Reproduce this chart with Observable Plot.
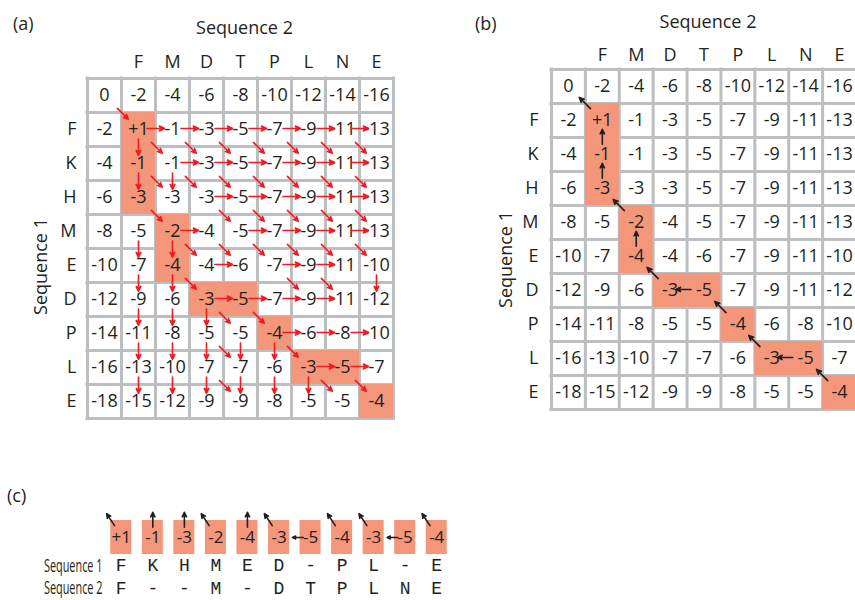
<!DOCTYPE html>
<html>
<head>
<meta charset="utf-8">
<script src="https://cdn.jsdelivr.net/npm/d3@7"></script>
<script src="https://cdn.jsdelivr.net/npm/@observablehq/plot@0.6"></script>
<style>
  html, body { margin: 0; padding: 0; background: #fff; overflow: hidden; }
  #fig { position: relative; width: 855px; height: 600px; overflow: hidden;
         font-family: "Open Sans", sans-serif; color: #231f20; }
  #fig svg { position: absolute; }
  .lab { position: absolute; font-size: 18px; line-height: 18px; }
</style>
</head>
<body>
<div id="fig">
  <div class="lab" style="left:13px;top:14px">(a)</div>
  <div class="lab" style="left:475px;top:14px">(b)</div>
  <div class="lab" style="left:7px;top:486px">(c)</div>
</div>
<script>
// ---- data ----
const seq1 = ["F", "K", "H", "M", "E", "D", "P", "L", "E"];   // rows (Sequence 1)
const seq2 = ["F", "M", "D", "T", "P", "L", "N", "E"];        // columns (Sequence 2)
const scores = [
  [0, -2, -4, -6, -8, -10, -12, -14, -16],
  [-2, 1, -1, -3, -5, -7, -9, -11, -13],
  [-4, -1, -1, -3, -5, -7, -9, -11, -13],
  [-6, -3, -3, -3, -5, -7, -9, -11, -13],
  [-8, -5, -2, -4, -5, -7, -9, -11, -13],
  [-10, -7, -4, -4, -6, -7, -9, -11, -10],
  [-12, -9, -6, -3, -5, -7, -9, -11, -12],
  [-14, -11, -8, -5, -5, -4, -6, -8, -10],
  [-16, -13, -10, -7, -7, -6, -3, -5, -7],
  [-18, -15, -12, -9, -9, -8, -5, -5, -4]
];
// forward pointers drawn in (a): d = diagonal, h = from left, v = from above
const pointers = [
  "d h h h h h h h",
  "v d dh dh dh dh dh dh",
  "v dv d dh dh dh dh dh",
  "- d h d dh dh dh dh",
  "v v d dh d dh dh d",
  "v v d h h dh dh v",
  "v v v d d h h h",
  "v v v dv v d h h",
  "v v v dv v v d d"
];
// traceback path of (b): row index, column index, move (d = up-left, u = up, l = left)
const traceRows = [1, 2, 3, 4, 5, 6, 6, 7, 8, 8, 9];
const traceCols = [1, 1, 1, 2, 2, 3, 4, 5, 6, 7, 8];
const traceMoves = ["d", "u", "u", "d", "u", "d", "l", "d", "d", "l", "d"];
// alignment of (c)
const alignScores = [1, -1, -3, -2, -4, -3, -5, -4, -3, -5, -4];
const alignMoves = ["d", "u", "u", "d", "u", "d", "l", "d", "d", "l", "d"];
const alignSeq1 = ["F", "K", "H", "M", "E", "D", "-", "P", "L", "-", "E"];
const alignSeq2 = ["F", "-", "-", "M", "-", "D", "T", "P", "L", "N", "E"];
const rowNames = ["Sequence 1", "Sequence 2"];

// ---- styles ----
const SALMON = "#f4967a", GRID = "#bcbec0", RED = "#ed1c24", INK = "#231f20";
const fmt = v => (v > 0 ? "+" + v : String(v));
const baseStyle = {fontFamily: "'Open Sans', sans-serif", fontSize: "18px", color: INK, background: "none", overflow: "visible"};

function forwardArrows() {
  const out = [];
  pointers.forEach((row, i) => {
    row.split(" ").forEach((code, j) => {
      const r = i + 1, c = j + 1;
      for (const k of code) {
        if (k === "d") out.push({x1: c - 0.12, y1: r - 0.12, x2: c + 0.2, y2: r + 0.2});
        if (k === "h") out.push({x1: c - 0.25, y1: r + 0.47, x2: c + 0.27, y2: r + 0.47});
        if (k === "v") out.push({x1: c + 0.5, y1: r - 0.22, x2: c + 0.5, y2: r + 0.26});
      }
    });
  });
  return out;
}
function backArrows() {
  return traceMoves.map((m, k) => {
    const r = traceRows[k], c = traceCols[k];
    if (m === "d") return {x1: c + 0.15, y1: r + 0.15, x2: c - 0.18, y2: r - 0.18};
    if (m === "u") return {x1: c + 0.5, y1: r + 0.2, x2: c + 0.5, y2: r - 0.24};
    return {x1: c + 0.12, y1: r + 0.47, x2: c - 0.33, y2: r + 0.47};
  });
}

function matrixPanel(o) {
  const cells = [];
  scores.forEach((row, r) => row.forEach((v, c) => cells.push({r, c, label: fmt(v)})));
  const path = traceRows.map((r, k) => ({r, c: traceCols[k]}));
  const svg = Plot.plot({
    width: o.width, height: o.height,
    marginLeft: o.ml, marginRight: o.mr, marginTop: o.mt, marginBottom: o.mb,
    style: baseStyle,
    x: {domain: [0, 9]},
    y: {domain: [0, 10], reverse: true},
    marks: [
      Plot.ruleX(d3.range(10), {stroke: GRID, strokeWidth: 3, strokeLinecap: "square"}),
      Plot.ruleY(d3.range(11), {stroke: GRID, strokeWidth: 3, strokeLinecap: "square"}),
      Plot.rect(path, {x1: d => d.c, x2: d => d.c + 1, y1: d => d.r, y2: d => d.r + 1, fill: SALMON}),
      Plot.text(cells, {x: d => d.c + 0.5, y: d => d.r + 0.5, text: "label", fontSize: 18, fill: INK}),
      Plot.arrow(o.arrows, {x1: "x1", y1: "y1", x2: "x2", y2: "y2", stroke: o.color, fill: o.color,
        strokeWidth: 1.6, headLength: 8, headAngle: 50}),
      Plot.axisX({anchor: "top", ticks: d3.range(1, 9).map(i => i + 0.5),
        tickFormat: d => seq2[Math.round(d - 1.5)], tickSize: 0, tickPadding: o.colPad, fontSize: 18, label: null}),
      Plot.axisY({anchor: "left", ticks: d3.range(1, 10).map(i => i + 0.5),
        tickFormat: d => seq1[Math.round(d - 1.5)], tickSize: 0, tickPadding: o.rowPad, fontSize: 18, label: null}),
      Plot.text(["Sequence 2"], {text: d => d, frameAnchor: "top", textAnchor: "middle", lineAnchor: "middle",
        dx: 4, dy: o.s2dy, fontSize: 18, fill: INK}),
      Plot.text(["Sequence 1"], {text: d => d, frameAnchor: "left", textAnchor: "middle", lineAnchor: "middle",
        rotate: -90, dx: o.s1dx, dy: o.s1dy, fontSize: 18, fill: INK})
    ]
  });
  svg.style.left = o.left + "px";
  svg.style.top = o.top + "px";
  return svg;
}

const fig = document.getElementById("fig");
fig.appendChild(matrixPanel({left: 0, top: 0, width: 420, height: 430, ml: 87, mr: 27, mt: 78, mb: 12,
  arrows: forwardArrows(), color: RED, colPad: 11, rowPad: 11, s2dy: -50, s1dx: -46, s1dy: 18}));
fig.appendChild(matrixPanel({left: 470, top: 0, width: 390, height: 420, ml: 81, mr: 4, mt: 69, mb: 11,
  arrows: backArrows(), color: INK, colPad: 9, rowPad: 13, s2dy: -47, s1dx: -45, s1dy: 20}));

// ---- panel (c) ----
const idx = d3.range(alignScores.length);
const ROW_Y = [1.33, 2.0];
const cArrows = alignMoves.map((m, i) => {
  const left = i - 1 / 3;
  if (m === "d") return {x1: left + 0.12, y1: 0.15, x2: left - 0.13, y2: -0.2};
  if (m === "u") return {x1: i, y1: 0.2, x2: i, y2: -0.24};
  return {x1: left + 0.1, y1: 0.5, x2: left - 0.24, y2: 0.5};
});
const pc = Plot.plot({
  width: 470, height: 120, marginLeft: 105, marginRight: 18, marginTop: 40, marginBottom: 0,
  style: baseStyle,
  x: {domain: [-0.5, 10.5], axis: null},
  y: {domain: [0, 80 / 34], reverse: true},
  marks: [
    Plot.rect(idx, {x1: i => i - 1 / 3, x2: i => i + 1 / 3, y1: 0, y2: 1, fill: SALMON}),
    Plot.text(idx, {x: i => i, y: 0.5, text: i => fmt(alignScores[i]), fontSize: 17, fill: INK}),
    Plot.arrow(cArrows, {x1: "x1", y1: "y1", x2: "x2", y2: "y2", stroke: INK, fill: INK,
      strokeWidth: 1.6, headLength: 8, headAngle: 50}),
    Plot.text(idx, {x: i => i, y: ROW_Y[0], text: i => alignSeq1[i], fontFamily: "'Liberation Mono', monospace", fontSize: 18, fill: INK}),
    Plot.text(idx, {x: i => i, y: ROW_Y[1], text: i => alignSeq2[i], fontFamily: "'Liberation Mono', monospace", fontSize: 18, fill: INK}),
    Plot.axisY({anchor: "left", ticks: ROW_Y, tickFormat: d => rowNames[ROW_Y.indexOf(d)],
      tickSize: 0, tickPadding: 3, fontSize: 17, label: null})
  ]
});
pc.style.left = "0px";
pc.style.top = "480px";
fig.appendChild(pc);
// the row names of (c) are set in a condensed face: compress them horizontally
d3.select(pc).selectAll("text").filter(function () { return /^Sequence/.test(this.textContent); })
  .attr("transform", function () { return (this.getAttribute("transform") || "") + " scale(0.64,1.08)"; });
</script>
</body>
</html>
